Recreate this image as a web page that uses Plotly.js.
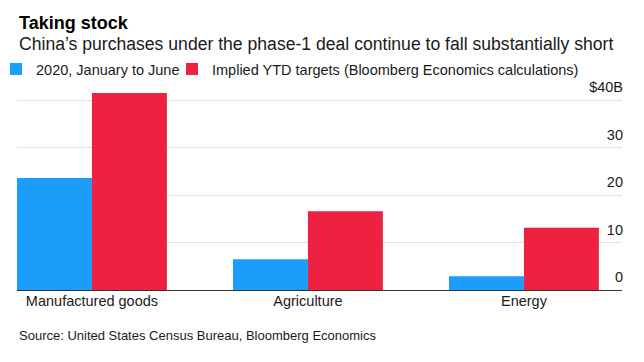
<!DOCTYPE html>
<html>
<head>
<meta charset="utf-8">
<script src="https://cdn.plot.ly/plotly-3.0.1.min.js"></script>
<style>html,body{margin:0;padding:0;background:#fff;}#chart{width:644px;height:362px;}</style>
</head>
<body>
<div id="chart"></div>
<script>
var categories = ["Manufactured goods", "Agriculture", "Energy"];
var actual2020 = [23.6, 6.5, 2.9];
var impliedTargets = [41.5, 16.6, 13.1];
var seriesNames = ["2020, January to June", "Implied YTD targets (Bloomberg Economics calculations)"];
var tickValues = [0, 10, 20, 30, 40];
var tickLabels = ["0", "10", "20", "30", "$40B"];

var FONT = "Liberation Sans, Arial, sans-serif";
var W = 644, H = 362;
var L = 17, R = 622, T = 76, B = 290, PH = B - T, PW = R - L;
function py(px) { return (B - px) / PH; }
function pxx(px) { return (px - L) / PW; }
var legendFont = {size: 14.5, family: FONT, color: "#1a1a1a"};
var data = [
  {type: "bar", x: categories, y: actual2020, name: seriesNames[0], legend: "legend",
   marker: {color: "#1b9dfc"}, hoverinfo: "none"},
  {type: "bar", x: categories, y: impliedTargets, name: seriesNames[1], legend: "legend2",
   marker: {color: "#ee2240"}, hoverinfo: "none"}
];
var layout = {
  width: W, height: H,
  margin: {l: L, r: W - R, t: T, b: H - B, autoexpand: false},
  paper_bgcolor: "#fff", plot_bgcolor: "#fff",
  font: {family: FONT, color: "#1a1a1a", size: 14},
  barmode: "group", bargap: 0.306, bargroupgap: 0,
  showlegend: true,
  legend: {orientation: "h", x: pxx(-4), xanchor: "left",
           y: py(69), yanchor: "middle", font: legendFont, itemwidth: 30,
           bgcolor: "rgba(0,0,0,0)"},
  legend2: {orientation: "h", x: pxx(172), xanchor: "left",
           y: py(69), yanchor: "middle", font: legendFont, itemwidth: 30,
           bgcolor: "rgba(0,0,0,0)"},
  xaxis: {type: "category", range: [-0.347, 2.454], showgrid: false, ticks: "",
          showline: false, zeroline: false, tickfont: {size: 14.5, color: "#1a1a1a"}, fixedrange: true},
  yaxis: {side: "right", range: [0, PH / 4.75], tickvals: tickValues, ticktext: tickLabels,
          showgrid: true, gridcolor: "#e2e2e2", gridwidth: 1, zeroline: true,
          zerolinecolor: "#333", zerolinewidth: 1, ticks: "", showline: false,
          ticklabelposition: "inside", ticklabelshift: -13, ticklabelstandoff: -4,
          tickfont: {size: 14.5, color: "#1a1a1a"}, fixedrange: true},
  annotations: [
    {text: "<b>Taking stock</b>", xref: "paper", yref: "paper", x: 0, xanchor: "left",
     y: py(22.5), yanchor: "middle", showarrow: false,
     font: {size: 18, family: FONT, color: "#000"}},
    {text: "China’s purchases under the phase-1 deal continue to fall substantially short",
     xref: "paper", yref: "paper", x: 0, xanchor: "left",
     y: py(44), yanchor: "middle", showarrow: false,
     font: {size: 17.6, family: FONT, color: "#1a1a1a"}},
    {text: "Source: United States Census Bureau, Bloomberg Economics",
     xref: "paper", yref: "paper", x: 0, xanchor: "left",
     y: py(335), yanchor: "middle", showarrow: false,
     font: {size: 13, family: FONT, color: "#1a1a1a"}}
  ]
};
Plotly.newPlot("chart", data, layout, {displayModeBar: false, staticPlot: true});
</script>
</body>
</html>
